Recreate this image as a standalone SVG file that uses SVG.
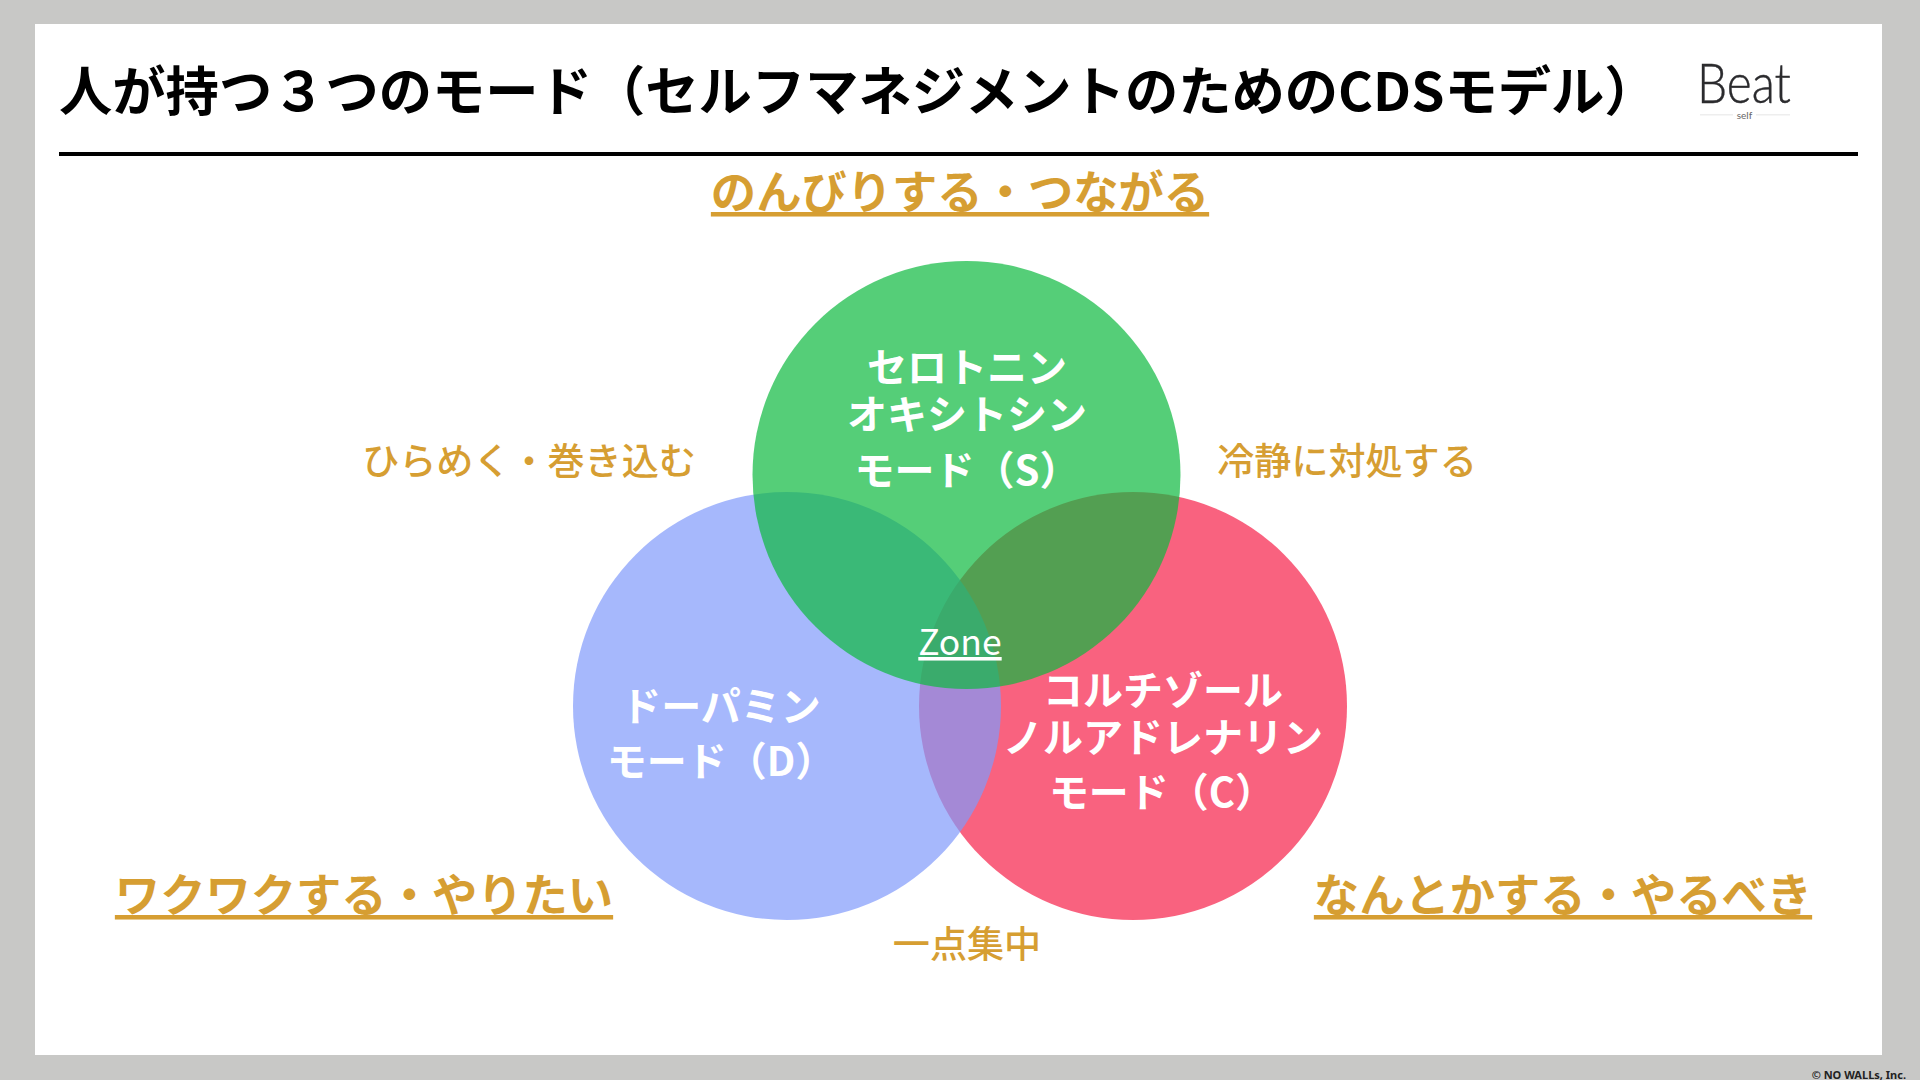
<svg xmlns="http://www.w3.org/2000/svg" width="1920" height="1080" viewBox="0 0 1920 1080">
<style>
text{font-family:"Noto Sans CJK JP","Noto Sans",sans-serif}
.t{font-weight:700;fill:#000;font-size:53.300px}
.h{font-weight:700;fill:#D69E32;font-size:45.300px;text-anchor:middle;text-decoration:underline}
.s{font-weight:500;fill:#D69E32;font-size:37.100px;text-anchor:middle}
.w{font-weight:700;fill:#fff;font-size:40px;text-anchor:middle}
</style>
<rect width="1920" height="1080" fill="#C8C8C6"/>
<rect x="35" y="24" width="1847" height="1031" fill="#fff"/>
<text class="t" x="59" y="111">人が持つ３つのモード（セルフマネジメントのためのCDSモデル）</text>
<rect x="59" y="152" width="1799" height="4" fill="#000"/>
<g id="logo">
<text x="1697" y="102.500" font-size="55" font-weight="300" stroke="#2b2b2e" stroke-width=".4" fill="#2b2b2e" textLength="94" lengthAdjust="spacingAndGlyphs" style="font-family:Lato,sans-serif">Beat</text>
<rect x="1700" y="114" width="33" height="1.500" fill="#eee"/>
<rect x="1756" y="114" width="34" height="1.500" fill="#eee"/>
<text x="1744.500" y="119" font-size="10" fill="#666" text-anchor="middle" style="font-family:Lato,sans-serif">self</text>
</g>
<g id="mode-c"><circle cx="1133" cy="706" r="214" fill="#F61F48" fill-opacity=".7"/></g>
<g id="mode-d"><circle cx="787" cy="706" r="214" fill="#809AFB" fill-opacity=".7"/></g>
<g id="mode-s"><circle cx="966.500" cy="475" r="214" fill="#0DB93E" fill-opacity=".7"/></g>
<g id="labels-s">
<text class="w" x="967" y="382">セロトニン</text>
<text class="w" x="967" y="429">オキシトシン</text>
<text class="w" x="967" y="484.500">モード（S）</text>
</g>
<g id="labels-d">
<text class="w" x="721" y="721">ドーパミン</text>
<text class="w" x="721" y="776">モード（D）</text>
</g>
<g id="labels-c">
<text class="w" x="1163" y="705">コルチゾール</text>
<text class="w" x="1163" y="752">ノルアドレナリン</text>
<text class="w" x="1162" y="807">モード（C）</text>
</g>
<text x="960" y="655" font-size="35.500" fill="#fff" text-anchor="middle" text-decoration="underline">Zone</text>
<text class="h" x="960" y="209">のんびりする・つながる</text>
<text class="h" x="364" y="912">ワクワクする・やりたい</text>
<text class="h" x="1563" y="912">なんとかする・やるべき</text>
<text class="s" x="529" y="475">ひらめく・巻き込む</text>
<text class="s" x="1347" y="475">冷静に対処する</text>
<text class="s" x="967" y="958">一点集中</text>
<text x="1906" y="1079" font-size="11" font-weight="700" fill="#222" text-anchor="end" style="font-family:'Noto Sans',sans-serif">© NO WALLs, Inc.</text>
</svg>
